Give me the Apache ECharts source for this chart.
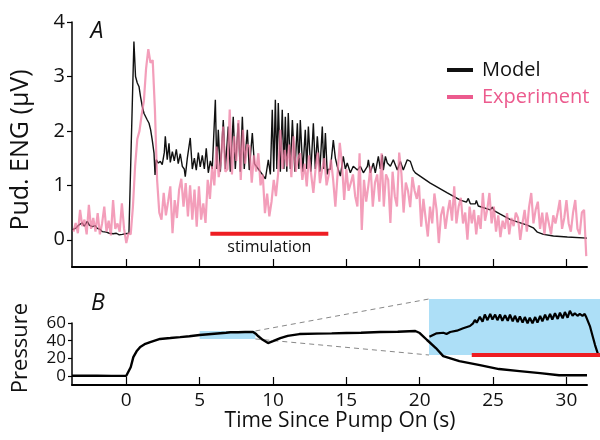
<!DOCTYPE html>
<html><head><meta charset="utf-8">
<script src="https://cdn.jsdelivr.net/npm/echarts@6/dist/echarts.min.js"></script>
<style>html,body{margin:0;padding:0;background:#fff}#c{width:600px;height:440px}</style>
</head><body><div id="c"></div>
<script>
const FONT = '"Open Sans", "Noto Sans", sans-serif';
const xTicks = [0, 5, 10, 15, 20, 25, 30];
const engTicks = [0, 1, 2, 3, 4];
const pressTicks = [0, 20, 40, 60];

// Model (black) trace: time (s) and ENG (µV)
const modelT = [-3.68,-3.41,-3.2,-3.0,-2.86,-2.66,-2.52,-2.32,-2.11,-1.98,-1.77,-1.64,-1.36,-1.16,-0.89,-0.68,-0.48,-0.27,-0.07,0.18,
0.52,0.63,0.75,0.87,0.97,1.09,1.21,1.32,1.43,1.55,1.66,1.77,1.89,1.96,2.04,2.18,2.32,2.45,2.59,2.66,2.79,2.91,3.0,3.14,3.27,3.41,3.54,3.68,3.82,3.95,4.02,4.16,4.36,4.5,4.64,4.77,4.91,5.04,5.18,5.32,5.45,5.59,5.73,5.86,
6.07,6.17,6.27,6.41,6.61,6.75,6.95,7.09,7.29,7.43,7.63,7.77,7.91,8.04,8.25,8.38,8.59,8.73,9.0,9.27,9.48,9.61,9.68,9.82,
9.95,10.05,10.16,10.26,10.36,10.5,10.63,10.74,10.84,10.94,11.04,11.18,11.32,11.49,11.66,11.76,11.86,12.03,12.2,12.3,12.41,12.58,12.75,12.88,13.02,13.19,13.36,13.46,13.57,13.7,13.77,13.91,
14.11,14.25,14.38,14.59,14.79,14.93,15.06,15.27,15.47,15.75,15.95,16.16,16.43,16.5,16.63,16.84,16.97,17.18,17.31,17.45,17.52,17.66,17.79,18.0,18.2,18.47,18.68,18.88,19.15,19.36,19.56,19.7,
20.72,21.88,22.77,23.18,23.31,23.45,23.79,23.86,23.99,24.81,24.95,25.09,25.49,26.18,26.65,27.33,27.74,28.02,28.43,29.11,30.06,31.4];
const modelV = [0.18,0.22,0.28,0.31,0.25,0.34,0.27,0.24,0.26,0.21,0.19,0.15,0.14,0.12,0.11,0.12,0.09,0.10,0.11,0.12,
3.64,3.0,2.88,2.81,2.63,2.45,2.32,2.26,2.20,2.14,2.02,1.83,1.59,1.19,1.47,1.41,1.44,1.38,1.6,1.9,1.47,1.77,1.42,1.62,1.45,1.66,1.40,1.58,1.35,1.3,1.16,1.5,1.87,1.3,1.5,1.28,1.6,1.34,1.55,1.3,1.68,1.23,1.45,1.3,
2.57,1.3,2.02,1.25,2.2,1.3,2.08,1.25,2.26,1.3,2.14,1.25,2.26,1.3,2.02,1.28,1.96,1.4,1.3,1.2,1.12,1.1,1.47,1.2,
2.39,1.25,2.57,1.3,2.51,1.25,2.39,1.3,2.26,1.25,2.33,1.3,2.2,1.25,2.14,1.3,2.2,1.25,2.02,1.3,2.08,1.25,2.14,1.3,1.9,1.25,2.08,1.3,1.96,1.2,1.29,1.3,
1.83,1.5,1.35,1.17,1.53,1.3,1.41,1.23,1.35,1.28,1.35,1.23,1.35,1.47,1.23,1.41,1.23,1.53,1.3,1.56,1.28,1.53,1.41,1.35,1.47,1.28,1.44,1.28,1.47,1.44,1.28,1.23,
1.04,0.86,0.73,0.69,0.76,0.66,0.66,0.72,0.62,0.55,0.6,0.53,0.47,0.37,0.33,0.27,0.22,0.14,0.1,0.07,0.05,0.03];

// Experiment (pink) trace: sampled every expStep seconds from expStart
const expStart = -3.6;
const expStep = 0.15;
const expV = [
0.15,0.31,0.12,0.55,0.25,0.37,0.1,0.64,0.2,0.4,
0.15,0.49,0.1,0.3,0.61,0.15,0.35,0.08,0.73,0.2,
0.3,0.15,0.67,0.2,-0.06,0.12,0.1,0.6,1.35,1.85,
2.0,2.3,2.55,3.15,3.5,3.25,3.3,2.4,1.1,0.5,
0.37,0.86,0.45,0.7,0.98,0.12,0.73,0.4,0.92,1.12,
0.61,1.04,0.43,1.0,0.37,0.92,0.24,0.98,0.37,0.67,
0.31,1.1,0.75,1.35,1.0,1.71,1.15,1.45,2.08,1.25,
1.3,2.39,1.2,1.9,1.45,2.2,1.1,2.02,1.4,1.75,
1.71,1.05,1.55,1.25,1.59,1.0,1.2,0.49,0.85,0.43,
0.7,1.1,0.8,1.22,2.02,1.3,1.65,1.35,1.75,1.15,
1.9,1.25,1.5,1.59,1.1,1.4,0.98,1.55,1.2,0.86,
1.3,1.6,1.04,1.3,1.5,1.0,1.2,1.47,1.1,0.61,
1.2,1.78,1.4,0.73,1.3,0.9,1.04,1.2,0.8,0.61,
1.59,0.18,1.1,0.7,1.0,1.35,0.61,1.05,1.2,0.7,
1.59,0.61,1.2,1.1,0.31,1.25,0.8,0.61,1.6,1.22,
0.5,1.05,0.9,0.6,1.15,0.9,0.75,1.0,0.24,0.75,
0.4,0.06,0.61,0.3,0.85,0.55,-0.06,0.45,0.61,0.2,
0.5,0.73,0.35,0.98,0.3,0.61,0.77,0.3,0.5,0.0,
0.61,0.3,0.55,0.1,0.45,0.2,0.86,0.35,0.55,0.86,
0.3,0.61,0.15,0.45,0.05,0.35,0.2,0.49,0.1,0.4,
0.25,0.5,0.4,0.0,0.3,0.55,0.15,0.6,0.86,0.3,
0.55,0.7,0.2,0.5,0.1,0.5,0.3,0.1,0.45,0.3,
0.5,0.73,0.2,0.4,0.73,0.3,0.15,0.5,0.73,0.2,
0.1,0.5,0.55,-0.3];

// Pressure trace (panel B)
const pressT = [-3.7,-2,-1,0,0.1,0.3,0.48,0.7,0.95,1.3,1.63,2.3,3.0,3.67,4.3,5.0,5.6,6.2,6.8,7.1,7.6,8.1,8.64,8.85,9.0,9.3,9.66,10.0,10.5,11.0,11.8,13,14,15,16,17.3,18.5,19.7,20.0,20.5,21.1,21.6,22.7,24.1,25.4,26.8,28.2,29.5,31.4];
const pressV = [0.5,0.5,0.3,0.5,1,10,21.5,28,33,36.5,38.5,42,43,44,45,46.4,47.3,48.2,49,49.6,49.6,49.8,49.8,47.5,45,41,37.4,39.5,43,45.5,47.5,48,48.3,48.7,49,49.8,50.2,51,48.7,40.8,31.7,22.6,17,12.5,8,5.7,3.4,1,1];

// Zoomed pressure (inset)
const insetT = [5.01,5.17,5.32,5.39,5.47,5.62,5.76,5.91,5.98,6.02,6.06,6.13,6.19,
6.24,6.30,6.36,6.41,6.47,6.52,6.58,6.63,6.69,6.75,6.80,6.86,6.91,6.97,7.02,7.08,7.13,7.19,7.24,7.30,7.36,7.41,7.47,7.52,7.58,7.63,7.69,7.74,7.80,7.86,7.91,7.97,8.02,8.08,8.13,8.19,8.24,8.30,8.35,8.41,8.46,
8.49,8.58,8.64,8.69,8.75,8.78];
const insetP = [44.94,45.49,45.58,45.38,45.70,45.91,46.29,46.66,47.09,47.63,47.19,48.16,47.35,
48.5,47.6,48.6,47.7,48.5,47.6,48.5,47.5,48.4,47.5,48.5,47.4,48.3,47.3,48.2,47.2,48.1,47.1,48.0,47.1,48.1,47.2,48.3,47.4,48.5,47.6,48.6,47.7,48.7,47.8,48.8,47.9,48.9,48.0,49.1,48.3,48.7,48.3,48.6,48.3,48.6,
48.16,46.55,44.94,43.6,42.27,42.0];

const stimT = [5.73, 13.77];
const stimLevel = 0.11;
const zoomT = [5, 8.8];
const zoomP = [42, 51];
const insetStimT = [5.95, 8.8];

const zip = (a, b) => a.map((v, i) => [v, b[i]]);
const modelData = zip(modelT, modelV);
const expData = expV.map((v, i) => [+(expStart + i * expStep).toFixed(3), v]);
const pressData = zip(pressT, pressV);
const insetData = zip(insetT, insetP);

const chart = echarts.init(document.getElementById('c'), null, {renderer: 'canvas'});
const txt = {fontFamily: FONT, color: '#111'};

const option = {
  animation: false,
  backgroundColor: '#fff',
  textStyle: {fontFamily: FONT},
  grid: [
    {left: 72, top: 22, width: 515, height: 245, outerBoundsMode: 'none'},
    {left: 72, top: 323, width: 515, height: 62, outerBoundsMode: 'none'},
    {left: 429, top: 299, width: 171, height: 56, show: true, backgroundColor: '#addff7', borderWidth: 0, outerBoundsMode: 'none'}
  ],
  xAxis: [
    {gridIndex: 0, type: 'value', min: -3.7, max: 31.4,
     axisLine: {show: true, onZero: false, lineStyle: {color: '#000', width: 2}},
     axisTick: {show: true, customValues: xTicks, inside: true, length: 8, lineStyle: {color: '#000', width: 1.2}},
     axisLabel: {show: false}, splitLine: {show: false}},
    {gridIndex: 1, type: 'value', min: -3.7, max: 31.4,
     axisLine: {show: true, onZero: false, lineStyle: {color: '#000', width: 2}},
     axisTick: {show: true, customValues: xTicks, inside: true, length: 8, lineStyle: {color: '#000', width: 1.2}},
     axisLabel: Object.assign({show: true, customValues: xTicks, fontSize: 19, margin: 6}, txt),
     splitLine: {show: false}},
    {gridIndex: 2, type: 'value', min: zoomT[0], max: zoomT[1], show: false}
  ],
  yAxis: [
    {gridIndex: 0, type: 'value', min: -0.5, max: 4,
     axisLine: {show: true, onZero: false, lineStyle: {color: '#000', width: 1.5}},
     axisTick: {show: true, customValues: engTicks, length: 5, lineStyle: {color: '#000', width: 1.2}},
     axisLabel: Object.assign({show: true, customValues: engTicks, fontSize: 20, margin: 7}, txt),
     splitLine: {show: false}},
    {gridIndex: 1, type: 'value', min: -10, max: 60,
     axisLine: {show: true, onZero: false, lineStyle: {color: '#000', width: 1.5}},
     axisTick: {show: true, customValues: pressTicks, length: 4, lineStyle: {color: '#000', width: 1.2}},
     axisLabel: Object.assign({show: true, customValues: pressTicks, fontSize: 17, margin: 6, lineHeight: 17}, txt),
     splitLine: {show: false}},
    {gridIndex: 2, type: 'value', min: zoomP[0], max: zoomP[1], show: false}
  ],
  legend: {
    orient: 'vertical', left: 442, top: 55, itemWidth: 26, itemHeight: 4, itemGap: 7, icon: 'rect',
    textStyle: {fontFamily: FONT, fontSize: 20, color: '#111', padding: [0, 0, 0, 4]},
    data: [
      {name: 'Model', itemStyle: {color: '#111'}},
      {name: 'Experiment', itemStyle: {color: '#ec5b8e', opacity: 1}, textStyle: {color: '#ec5b8e'}}
    ]
  },
  series: [
    {name: 'Model', type: 'line', xAxisIndex: 0, yAxisIndex: 0, data: modelData, symbol: 'none', z: 2,
     lineStyle: {color: '#111', width: 1.4}, itemStyle: {color: '#111'}},
    {name: 'Experiment', type: 'line', xAxisIndex: 0, yAxisIndex: 0, data: expData, symbol: 'none', z: 3,
     lineStyle: {color: '#ef7ea3', width: 2.2, opacity: 0.75}, itemStyle: {color: '#ef7ea3'}},
    {name: 'stim', type: 'line', xAxisIndex: 0, yAxisIndex: 0, symbol: 'none', z: 4, clip: false, silent: true,
     data: [[stimT[0], stimLevel], [stimT[1], stimLevel]], lineStyle: {color: '#ee1d23', width: 4, cap: 'butt'}},
    {name: 'pressure', type: 'line', xAxisIndex: 1, yAxisIndex: 1, data: pressData, symbol: 'none', z: 3,
     lineStyle: {color: '#000', width: 2.4},
     markArea: {silent: true, z: 1, itemStyle: {color: '#addff7'},
       data: [[{coord: [zoomT[0], zoomP[0]]}, {coord: [zoomT[1], zoomP[1]]}]]}},
    {name: 'inset', type: 'line', xAxisIndex: 2, yAxisIndex: 2, data: insetData, symbol: 'none', z: 3, clip: false,
     lineStyle: {color: '#000', width: 2.2}},
    {name: 'insetStim', type: 'line', xAxisIndex: 2, yAxisIndex: 2, symbol: 'none', z: 4, clip: false, silent: true,
     data: [[insetStimT[0], zoomP[0]], [insetStimT[1], zoomP[0]]], lineStyle: {color: '#ee1d23', width: 4, cap: 'butt'}}
  ]
};
chart.setOption(option);

const px = (g, v) => chart.convertToPixel({gridIndex: g}, v);
const a1 = px(1, [zoomT[1], zoomP[1]]), b1 = px(2, [zoomT[0], zoomP[1]]);
const a2 = px(1, [zoomT[1], zoomP[0]]), b2 = px(2, [zoomT[0], zoomP[0]]);
const sp = px(0, [(stimT[0] + stimT[1]) / 2, stimLevel]);
const dash = {stroke: '#888', lineWidth: 1, lineDash: [5, 4]};
const T = (text, x, y, size, extra, rot) => ({
  type: 'text', x: x, y: y, rotation: rot || 0, z: 10,
  style: Object.assign({text: text, fontFamily: FONT, fontSize: size, fill: '#111',
    align: 'center', verticalAlign: 'middle', textAlign: 'center', textVerticalAlign: 'middle'}, extra || {})
});
chart.setOption({
  graphic: [
    {type: 'line', z: 1, shape: {x1: a1[0], y1: a1[1], x2: b1[0], y2: b1[1]}, style: dash},
    {type: 'line', z: 1, shape: {x1: a2[0], y1: a2[1], x2: b2[0], y2: b2[1]}, style: dash},
    T('stimulation', sp[0], sp[1] + 14, 16),
    T('A', 97, 31, 23, {fontStyle: 'italic'}),
    T('B', 98, 303, 23, {fontStyle: 'italic'}),
    T('Pud. ENG (\u03bcV)', 21, 150, 25, {}, Math.PI / 2),
    T('Pressure', 21, 348, 22, {}, Math.PI / 2),
    T('Time Since Pump On (s)', 340, 421, 21)
  ]
});
</script>
</body></html>
